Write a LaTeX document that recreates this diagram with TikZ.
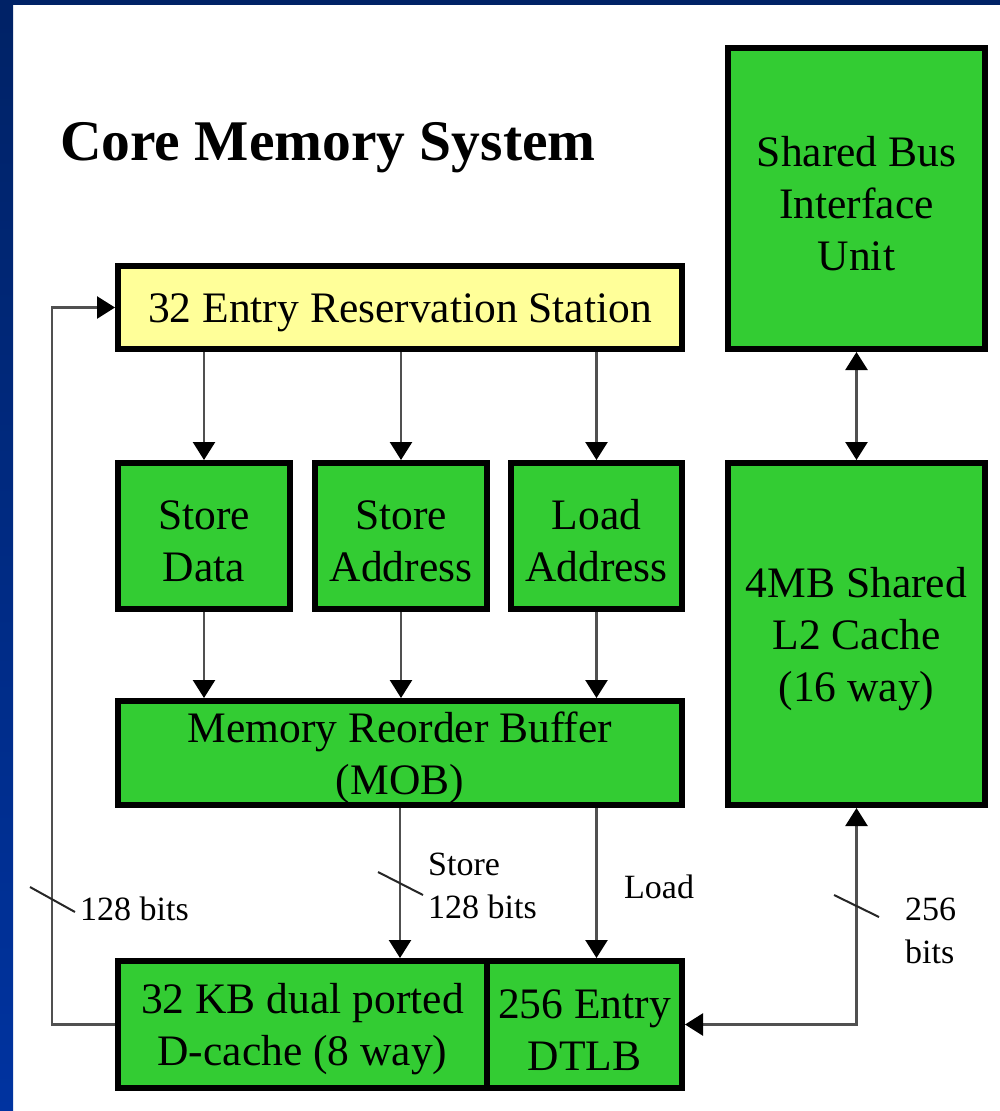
\documentclass[tikz,border=0pt]{standalone}
\usepackage{fontspec}
\setmainfont{Liberation Serif}
\usetikzlibrary{arrows.meta}

\definecolor{boxgreen}{RGB}{51,204,51}
\definecolor{rsyellow}{RGB}{255,255,153}
\definecolor{wire}{RGB}{80,80,80}
\definecolor{navytop}{RGB}{0,34,102}
\definecolor{navylow}{RGB}{0,51,160}

\newcommand\boxfont{\fontsize{43.5}{52}\selectfont}
\newcommand\labfont{\fontsize{34}{43}\selectfont}
% invisible strut that lowers the box text a little
\newcommand\lowerstrut{\rule{0pt}{40pt}}

\begin{document}
\begin{tikzpicture}[x=1pt,y=-1pt,
  unit/.style={draw=black, line width=6pt, fill=boxgreen, inner sep=0pt,
    align=center, font=\boxfont},
  conn/.style={draw=wire, line width=2.5pt,
    -{Triangle[width=22pt,length=18pt,black]}},
  biconn/.style={draw=wire, line width=2.5pt,
    {Triangle[width=22pt,length=18pt,black]}-{Triangle[width=22pt,length=18pt,black]}},
  slash/.style={draw=black!85, line width=2pt},
  lab/.style={font=\labfont, inner sep=0pt, anchor=base west, align=left}]

% page and slide frame
\useasboundingbox (0,0) rectangle (1000,1111);
\fill[white] (0,0) rectangle (1000,1111);
\shade[top color=navytop, bottom color=navylow] (0,0) rectangle (13,1111);
\fill[navytop] (0,0) rectangle (1000,5);

% title
\node[font=\fontsize{57.5}{68}\selectfont\bfseries, inner sep=0pt, anchor=base west]
  (title) at (60,160) {Core Memory System};

% units
\node[unit, fill=rsyellow, minimum width=564pt, minimum height=83pt]
  (rs) at (400,307.5) {\lowerstrut 32 Entry Reservation Station};
\node[unit, minimum width=172pt, minimum height=146pt]
  (sd) at (204,536) {\lowerstrut Store\\Data};
\node[unit, minimum width=172pt, minimum height=146pt]
  (sa) at (401,536) {\lowerstrut Store\\Address};
\node[unit, minimum width=171pt, minimum height=146pt]
  (la) at (596.5,536) {\lowerstrut Load\\Address};
\node[unit, minimum width=564pt, minimum height=104pt]
  (mob) at (400,753) {\lowerstrut Memory Reorder Buffer\\(MOB)};
\node[unit, minimum width=369pt, minimum height=127pt]
  (dc) at (302.5,1024.5) {\lowerstrut 32 KB dual ported\\D-cache (8 way)};
\node[unit, minimum width=195pt, minimum height=127pt]
  (dtlb) at (584.5,1024.5) {\lowerstrut 256 Entry\\DTLB};
\node[unit, minimum width=257pt, minimum height=301pt]
  (sb) at (856.5,198.5) {\lowerstrut Shared Bus\\Interface\\Unit};
\node[unit, minimum width=257pt, minimum height=342pt]
  (l2) at (856.5,634) {\lowerstrut 4MB Shared\\L2 Cache\\(16 way)};

% reservation station to the three queues
\draw[conn] (sd.north |- rs.south) -- (sd.north);
\draw[conn] (sa.north |- rs.south) -- (sa.north);
\draw[conn] (la.north |- rs.south) -- (la.north);

% queues to the MOB
\draw[conn] (sd.south) -- (sd.south |- mob.north);
\draw[conn] (sa.south) -- (sa.south |- mob.north);
\draw[conn] (la.south) -- (la.south |- mob.north);

% MOB to the D-cache and DTLB
\draw[conn] (mob.south) -- (mob.south |- dc.north);
\draw[conn] (la.south |- mob.south) -- (la.south |- dtlb.north);

% bus interface and L2
\draw[biconn] (sb.south) -- (l2.north);
\draw[biconn] (dtlb.east) -| (l2.south);

% load data back to the reservation station
\coordinate (fb) at (52,1024.5);
\draw[conn] (dc.west) -- (fb) |- (rs.west);

% bus width marks
\draw[slash] (30,887) -- (75,912);
\draw[slash] (378,872) -- (423,895);
\draw[slash] (834,895) -- (879,917);

% labels (anchored on the baseline of the last line)
\node[lab] (l128a) at (80,920) {128 bits};
\node[lab] (lstore) at (428,918) {Store\\128 bits};
\node[lab] (lload) at (624,898) {Load};
\node[lab] (l256) at (905,963) {256\\bits};

\end{tikzpicture}
\end{document}
